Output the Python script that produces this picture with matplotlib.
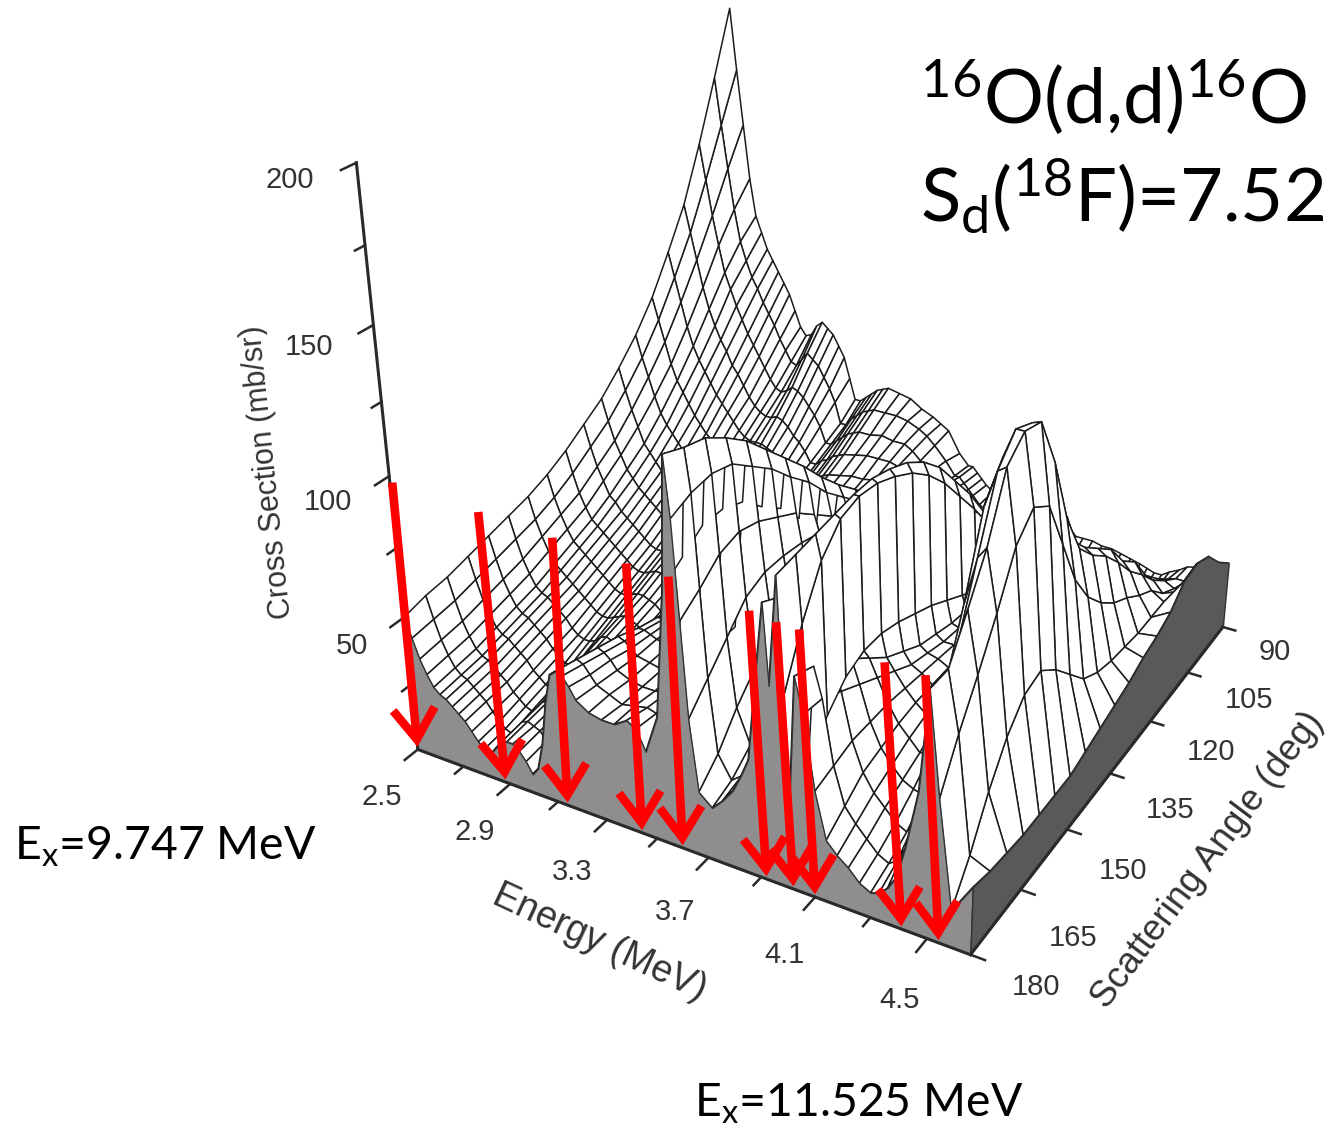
import numpy as np
import matplotlib
matplotlib.use('Agg')
import matplotlib.pyplot as plt
from matplotlib.patches import FancyArrowPatch
from matplotlib.transforms import IdentityTransform
from mpl_toolkits.mplot3d import proj3d
from mpl_toolkits.mplot3d.art3d import Poly3DCollection

W, H = 1334, 1132
plt.rcParams['font.family'] = ['Liberation Sans', 'DejaVu Sans']
plt.rcParams['mathtext.default'] = 'regular'

angles = [180, 175, 170, 165, 160, 155, 150, 145, 140, 135, 130, 125, 120, 115, 110, 105, 100, 95, 90]
energies = [2.50, 2.525, 2.55, 2.575, 2.60, 2.625, 2.65, 2.675, 2.70, 2.725, 2.75, 2.775, 2.80, 2.825, 2.85, 2.875,
            2.90, 2.925, 2.95, 2.975, 3.00, 3.025, 3.05, 3.075, 3.10, 3.125, 3.15, 3.175, 3.20, 3.25, 3.30, 3.35,
            3.40, 3.435, 3.47, 3.52, 3.56, 3.58, 3.60, 3.62, 3.64, 3.67, 3.72, 3.76, 3.80, 3.83, 3.86, 3.90,
            3.92, 3.94, 3.97, 3.99, 4.01, 4.03, 4.06, 4.10, 4.14, 4.18, 4.22, 4.26, 4.30, 4.33, 4.36, 4.39,
            4.42, 4.46, 4.49, 4.53, 4.58, 4.65]
# cross section, one row per energy, angles 180 -> 90
sigma = [
    [50, 52, 53, 55, 57, 59, 61, 64, 68, 73, 78, 85, 93, 103, 116, 130, 149, 170, 192],
    [43, 44, 45, 47, 49, 51, 53, 56, 60, 65, 70, 77, 85, 95, 107, 120, 136, 153, 170],
    [36, 37, 38, 40, 42, 44, 47, 50, 53, 58, 63, 70, 78, 87, 98, 110, 123, 137, 150],
    [31, 32, 33, 35, 37, 39, 42, 45, 48, 53, 58, 64, 71, 79, 89, 100, 112, 122, 130],
    [27, 28, 29, 31, 33, 35, 38, 41, 44, 48, 53, 58, 65, 73, 82, 92, 102, 110, 116],
    [25, 26, 27, 29, 31, 33, 36, 39, 42, 46, 50, 55, 61, 69, 77, 86, 96, 103, 110],
    [24, 25, 26, 28, 30, 32, 34, 37, 40, 43, 47, 52, 58, 65, 73, 81, 90, 97, 104],
    [22, 23, 24, 26, 28, 30, 32, 35, 38, 41, 45, 49, 55, 61, 69, 77, 85, 93, 100],
    [20, 21, 22, 24, 26, 28, 30, 33, 36, 39, 43, 47, 52, 58, 65, 72, 80, 88, 96],
    [18, 19, 20, 22, 24, 26, 28, 31, 34, 37, 41, 45, 50, 55, 62, 69, 76, 84, 92],
    [15, 16, 17, 19, 21, 23, 26, 29, 32, 35, 39, 43, 48, 53, 59, 65, 72, 80, 88],
    [12, 13, 15, 17, 19, 21, 24, 27, 30, 33, 37, 41, 46, 50, 56, 61, 68, 75, 82],
    [10, 11, 13, 15, 17, 20, 23, 26, 29, 32, 36, 40, 44, 48, 53, 58, 64, 71, 76],
    [9, 10, 12, 14, 17, 20, 23, 26, 29, 32, 35, 39, 42, 46, 51, 56, 61, 67, 73],
    [12, 13, 14, 16, 18, 21, 24, 27, 30, 33, 36, 39, 42, 46, 50, 55, 60, 66, 74],
    [15, 16, 17, 19, 21, 23, 25, 28, 31, 33, 36, 38, 41, 45, 50, 55, 61, 69, 78],
    [16, 17, 18, 20, 22, 24, 26, 28, 31, 33, 36, 38, 41, 45, 50, 56, 63, 72, 80],
    [16, 16, 17, 19, 21, 23, 25, 27, 30, 32, 35, 37, 40, 44, 49, 55, 62, 70, 78],
    [14, 15, 16, 18, 20, 22, 24, 26, 28, 30, 33, 36, 39, 43, 48, 53, 60, 68, 76],
    [11, 12, 13, 15, 18, 20, 22, 24, 26, 29, 31, 34, 37, 41, 45, 50, 57, 64, 72],
    [7, 8, 10, 13, 16, 18, 21, 23, 25, 27, 30, 33, 36, 39, 43, 48, 54, 60, 68],
    [10, 11, 13, 15, 17, 19, 21, 23, 25, 27, 29, 32, 35, 38, 41, 45, 50, 55, 60],
    [20, 21, 22, 23, 24, 25, 26, 27, 28, 29, 30, 32, 34, 36, 38, 41, 44, 47, 52],
    [36, 35, 33, 32, 31, 30, 29, 29, 30, 30, 31, 32, 34, 36, 38, 41, 44, 47, 52],
    [47, 45, 43, 41, 38, 36, 34, 33, 33, 33, 33, 34, 36, 38, 40, 43, 46, 50, 54],
    [49, 47, 45, 43, 40, 38, 36, 35, 35, 35, 35, 36, 37, 39, 41, 44, 48, 52, 56],
    [48, 46, 44, 42, 40, 38, 37, 36, 36, 36, 37, 38, 39, 41, 43, 46, 50, 54, 58],
    [45, 43, 42, 40, 39, 38, 37, 36, 37, 37, 38, 39, 40, 42, 44, 47, 51, 55, 59],
    [41, 40, 39, 38, 38, 37, 37, 37, 38, 38, 39, 40, 42, 43, 45, 48, 52, 56, 60],
    [38, 38, 37, 37, 37, 37, 37, 37, 38, 39, 40, 41, 42, 44, 46, 49, 52, 56, 59],
    [37, 36, 36, 36, 36, 36, 37, 37, 38, 39, 40, 41, 43, 45, 47, 50, 53, 56, 58],
    [37, 37, 36, 36, 36, 36, 37, 38, 38, 39, 41, 42, 44, 45, 47, 50, 52, 55, 55],
    [40, 38, 37, 37, 37, 37, 38, 38, 39, 40, 41, 43, 44, 46, 48, 50, 52, 53, 53],
    [38, 37, 36, 36, 36, 36, 37, 38, 39, 40, 41, 42, 44, 45, 47, 49, 50, 51, 51],
    [31, 32, 33, 34, 35, 36, 37, 38, 39, 40, 41, 42, 43, 44, 45, 46, 47, 48, 49],
    [45, 47, 50, 52, 52, 52, 50, 48, 46, 44, 43, 43, 43, 43, 43, 44, 44, 43, 41],
    [90, 95, 100, 100, 97, 90, 84, 75, 68, 62, 56, 50, 47, 44, 41, 40, 39, 38, 37],
    [134, 131, 129, 124, 118, 110, 102, 94, 85, 77, 70, 62, 55, 50, 45, 42, 40, 38, 37],
    [114, 117, 118, 116, 110, 104, 96, 89, 80, 73, 66, 58, 52, 47, 43, 40, 38, 36, 35],
    [81, 86, 92, 94, 92, 88, 84, 78, 72, 68, 62, 55, 49, 44, 40, 38, 36, 34, 33],
    [48, 56, 64, 72, 75, 75, 74, 72, 68, 64, 58, 52, 46, 41, 37, 35, 33, 32, 31],
    [23, 30, 40, 48, 54, 58, 60, 60, 58, 56, 52, 46, 41, 37, 34, 32, 30, 29, 29],
    [19, 22, 28, 34, 40, 45, 48, 50, 50, 50, 46, 41, 37, 33, 30, 28, 27, 26, 26],
    [23, 25, 29, 34, 38, 42, 45, 47, 48, 48, 45, 41, 37, 33, 30, 27, 26, 25, 25],
    [28, 30, 32, 35, 38, 42, 46, 48, 50, 50, 47, 43, 38, 33, 30, 27, 25, 24, 24],
    [34, 36, 39, 42, 46, 50, 54, 56, 58, 57, 54, 49, 42, 35, 31, 27, 25, 24, 24],
    [41, 44, 48, 52, 56, 60, 64, 66, 68, 66, 62, 54, 46, 38, 32, 28, 26, 25, 24],
    [78, 78, 80, 82, 84, 86, 88, 88, 86, 82, 74, 64, 54, 44, 36, 31, 28, 26, 25],
    [96, 92, 92, 94, 96, 98, 98, 98, 95, 90, 80, 70, 58, 48, 40, 34, 30, 28, 26],
    [69, 82, 92, 98, 102, 104, 104, 102, 98, 92, 82, 72, 60, 50, 42, 36, 32, 29, 27],
    [106, 107, 108, 109, 110, 110, 108, 105, 100, 93, 83, 73, 61, 51, 43, 37, 33, 30, 28],
    [66, 85, 100, 108, 110, 109, 106, 102, 96, 88, 78, 68, 57, 48, 40, 35, 31, 28, 27],
    [33, 40, 48, 55, 58, 58, 56, 53, 50, 46, 42, 38, 35, 32, 28, 26, 24, 23, 22],
    [75, 72, 67, 62, 56, 50, 46, 42, 40, 38, 37, 36, 34, 31, 27, 22, 18, 16, 20],
    [63, 62, 58, 54, 50, 46, 42, 40, 38, 37, 36, 35, 33, 30, 26, 21, 18, 16, 20],
    [38, 40, 42, 42, 42, 41, 40, 39, 38, 37, 36, 34, 31, 28, 24, 19, 17, 16, 20],
    [22, 27, 32, 34, 36, 37, 37, 37, 36, 35, 33, 31, 28, 24, 20, 17, 15, 15, 19],
    [18, 22, 26, 29, 32, 34, 35, 37, 37, 37, 34, 30, 26, 21, 17, 15, 14, 14, 19],
    [15, 18, 22, 25, 28, 32, 35, 38, 40, 40, 36, 30, 24, 19, 15, 13, 13, 14, 18],
    [11, 14, 18, 23, 29, 35, 40, 42, 42, 40, 34, 27, 20, 15, 12, 10, 11, 13, 17],
    [9, 12, 16, 22, 30, 38, 44, 46, 45, 40, 32, 24, 18, 13, 10, 9, 10, 12, 16],
    [10, 14, 21, 30, 42, 52, 58, 58, 54, 47, 38, 30, 23, 17, 12, 10, 10, 11, 15],
    [13, 20, 30, 43, 60, 72, 76, 74, 66, 56, 46, 38, 30, 22, 15, 12, 11, 11, 14],
    [18, 30, 46, 65, 88, 100, 100, 92, 80, 68, 58, 50, 42, 31, 22, 16, 13, 12, 14],
    [30, 46, 70, 92, 118, 128, 122, 108, 92, 80, 70, 62, 54, 43, 34, 25, 19, 15, 16],
    [50, 66, 86, 108, 130, 138, 135, 118, 96, 80, 72, 66, 60, 50, 44, 33, 26, 20, 18],
    [85, 85, 98, 112, 132, 138, 136, 118, 94, 78, 70, 64, 56, 47, 40, 32, 26, 21, 20],
    [50, 65, 78, 92, 108, 115, 110, 92, 74, 62, 54, 48, 44, 39, 35, 28, 24, 21, 21],
    [13, 25, 40, 52, 60, 62, 56, 48, 40, 36, 34, 33, 32, 32, 32, 30, 27, 24, 23],
    [24, 22, 21, 20, 20, 20, 20, 22, 24, 26, 28, 31, 33, 36, 42, 43, 40, 32, 26],
]
energy_ticks = [2.5, 2.9, 3.3, 3.7, 4.1, 4.5]
energy_minor = [2.7, 3.1, 3.5, 3.9, 4.3]
angle_ticks = [180, 165, 150, 135, 120, 105, 90]
sigma_ticks = [50, 100, 150, 200]
sigma_minor = [25, 75, 125, 175]
arrow_tip = [2.5, 2.88, 3.14, 3.44, 3.6, 3.92, 4.02, 4.1, 4.41, 4.54]
arrow_tail = [2.51, 2.86, 3.15, 3.43, 3.586, 3.875, 3.97, 4.05, 4.34, 4.475]
arrow_top = [98, 97, 96, 95, 95, 92, 91, 91, 89, 89]

E_MAX = energies[-1]

fig = plt.figure(figsize=(W / 100, H / 100), dpi=100, facecolor='white')
# view and placement found by matching the axis corners of the reference
scale, cx, cy = 5726.26, 837.4, 420.48
side = 0.185 * scale
ax = fig.add_axes([(cx - 0.095 * scale) / W, (H - cy - 0.095 * scale) / H, side / W, side / H],
                  projection='3d', computed_zorder=False)
ax.set_xlim(2.5, E_MAX)
ax.set_ylim(180, 90)
ax.set_zlim(0, 200)
ax.set_axis_off()
ax.view_init(27.481, -60.338)
ax.set_proj_type('persp', focal_length=0.394)
ax.set_box_aspect((1.01, 1, 1.021))

X, Y = np.meshgrid(energies, angles, indexing='ij')
Z = np.array(sigma, float)

surf = ax.plot_surface(X, Y, Z, rstride=1, cstride=1, color='white', edgecolor='#1c1c1c', linewidth=1.1, shade=False, zorder=1)
surf.set_zsort('min')

front = [(e, 180, z) for e, z in zip(energies, Z[:, 0])] + [(E_MAX, 180, 0), (2.5, 180, 0)]
ax.add_collection3d(Poly3DCollection([front], facecolor='#8f8d8e', edgecolor='#333333', linewidth=1.0, zorder=2))
wall = [(E_MAX, a, z) for a, z in zip(angles, Z[-1, :])] + [(E_MAX, 90, 0), (E_MAX, 180, 0)]
ax.add_collection3d(Poly3DCollection([wall], facecolor='#5a5859', edgecolor='#333333', linewidth=1.0, zorder=2))

axis_kw = dict(color='#2a2a2a', lw=2.2, zorder=3)
ax.plot([2.5, E_MAX], [180, 180], [0, 0], **axis_kw)
ax.plot([E_MAX, E_MAX], [180, 90], [0, 0], **axis_kw)
ax.plot([2.5, 2.5], [180, 180], [0, 200], **axis_kw)
tick_kw = dict(color='#2a2a2a', lw=1.8, zorder=3)
for e in energy_ticks:
    ax.plot([e, e], [180, 183], [0, 0], **tick_kw)
for e in energy_minor:
    ax.plot([e, e], [180, 182], [0, 0], **tick_kw)
for a in angle_ticks:
    ax.plot([E_MAX, E_MAX + 0.05], [a, a], [0, 0], **tick_kw)
for z in sigma_ticks:
    ax.plot([2.5, 2.5], [180, 183], [z, z], **tick_kw)
for z in sigma_minor:
    ax.plot([2.5, 2.5], [180, 182], [z, z], **tick_kw)


def to_px(e, a, z):
    x, y, _ = proj3d.proj_transform(e, a, z, ax.get_proj())
    return ax.transData.transform((x, y))


fig.canvas.draw()
for tip, tail, top in zip(arrow_tip, arrow_tail, arrow_top):
    arrow = FancyArrowPatch(to_px(tail, 180, top), to_px(tip, 180, 1), transform=IdentityTransform(),
                            arrowstyle='->,head_length=22,head_width=15', color='#fe0000', lw=6.2,
                            shrinkA=0, shrinkB=0, mutation_scale=1, zorder=10, capstyle='butt', joinstyle='miter')
    fig.add_artist(arrow)


def label(px, py, txt, **kw):
    fig.text(px / W, 1 - py / H, txt, ha='center', va='center', **kw)


tick_style = dict(fontsize=21, color='#333333')
for x, y, t in [(382, 797, '2.5'), (475, 832, '2.9'), (572, 872, '3.3'), (675, 912, '3.7'), (784, 955, '4.1'), (900, 1000, '4.5')]:
    label(x, y, t, **tick_style)
for x, y, t in [(1036, 987, '180'), (1073, 938, '165'), (1123, 871, '150'), (1170, 810, '135'), (1211, 752, '120'), (1249, 700, '105'), (1275, 652, '90')]:
    label(x, y, t, **tick_style)
for x, y, t in [(290, 180, '200'), (309, 347, '150'), (328, 502, '100'), (352, 646, '50')]:
    label(x, y, t, **tick_style)
label(600, 943, 'Energy (MeV)', fontsize=27, rotation=-25, color='#333333')
label(1208, 860, 'Scattering Angle (deg)', fontsize=26.3, rotation=53, color='#333333')
label(268, 472, 'Cross Section (mb/sr)', fontsize=22, rotation=96, color='#333333')

big = dict(family=['Lato', 'DejaVu Sans'], color='black')
fig.text(920 / W, 1 - 124 / H, '$^{16}$O(d,d)$^{16}$O', fontsize=54, ha='left', va='baseline', **big)
fig.text(920 / W, 1 - 222 / H, 'S$_{d}$($^{18}$F)=7.52', fontsize=53.5, ha='left', va='baseline', **big)
fig.text(14 / W, 1 - 860 / H, 'E$_{x}$=9.747 MeV', fontsize=33.4, ha='left', va='baseline', **big)
fig.text(694 / W, 1 - 1117 / H, 'E$_{x}$=11.525 MeV', fontsize=33.4, ha='left', va='baseline', **big)

fig.savefig('out.png', dpi=100)
